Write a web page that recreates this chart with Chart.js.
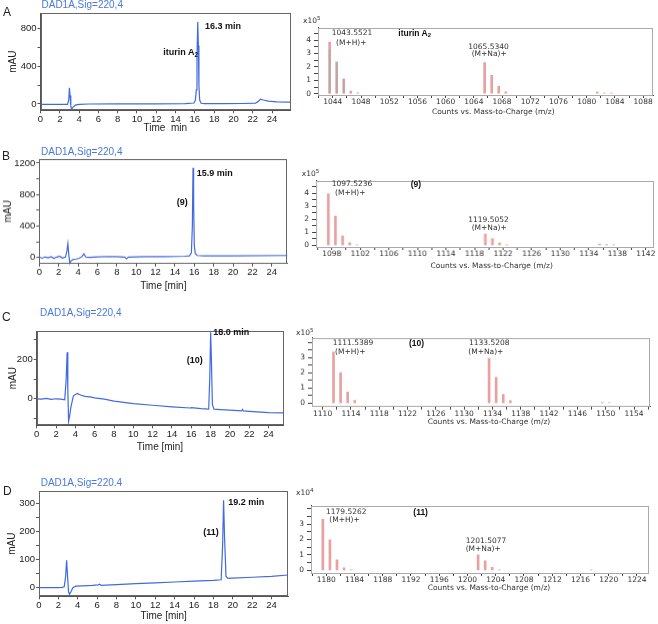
<!DOCTYPE html>
<html>
<head>
<meta charset="utf-8">
<script src="https://cdn.jsdelivr.net/npm/chart.js@4.4.1/dist/chart.umd.min.js"></script>
<style>
  body { margin: 0; width: 658px; height: 624px; position: relative; overflow: hidden; background: #fff;
         font-family: "Liberation Sans", Arial, sans-serif; }
  .c { position: absolute; }
  .t { position: absolute; white-space: nowrap; line-height: 1; z-index: 5; color: #222; }
  .pl { font-size: 12px; }
  .dad { font-size: 10px; color: #4a78e0; }
  .bl { font-size: 9px; font-weight: bold; color: #111; }
  .ms { font-family: "DejaVu Sans", Verdana, sans-serif; font-size: 7.5px; color: #333; }
  .msb { font-size: 8.5px; font-weight: bold; color: #111; }
  .sb { font-size: 70%; position: relative; top: 0.3em; }
  .sp { font-size: 75%; position: relative; top: -0.55em; }
</style>
</head>
<body>
<script>
// chromatograms (time in min, signal in mAU)
var timeA = [0, 1, 2, 2.8, 2.92, 3.0, 3.06, 3.14, 3.22, 3.35, 3.6, 4, 5, 8, 12, 15, 15.9, 16.05, 16.15, 16.22, 16.3, 16.36, 16.42, 16.5, 16.65, 17, 19, 21, 22.3, 22.6, 22.8, 23.1, 23.6, 24.5, 25.9];
var sigA  = [-4, -5, -4, -5, 40, 172, 90, -20, -58, -35, -12, -4, 0, 1, 2, 3, 10, 40, 150, 500, 870, 620, 200, 40, 8, 3, 3, 5, 10, 30, 50, 42, 30, 22, 20];

var timeB = [0, 0.3, 0.6, 0.9, 1.2, 1.5, 1.8, 2.1, 2.4, 2.7, 2.85, 2.95, 3.05, 3.15, 3.3, 3.5, 3.8, 4.1, 4.4, 4.6, 4.8, 5.2, 6, 7, 8, 8.8, 9.0, 9.2, 10, 11, 12, 13, 14, 15, 15.5, 15.7, 15.8, 15.87, 15.93, 16.0, 16.1, 16.3, 17, 20, 25.6];
var sigB  = [5, -10, 8, -5, 10, -12, 5, 15, -8, 5, 80, 175, 30, -73, -40, -25, -20, -10, 10, 45, 5, 0, 8, 12, 10, 5, -15, 5, 8, 10, 12, 10, 12, 15, 20, 60, 400, 1140, 700, 150, 50, 25, 20, 20, 25];

var timeC = [0, 0.5, 1, 1.5, 2, 2.5, 2.9, 3.05, 3.15, 3.22, 3.3, 3.4, 3.55, 3.8, 4.2, 4.6, 5, 5.5, 6, 7, 8, 10, 12, 14, 15.9, 16.0, 17, 17.8, 17.92, 18.0, 18.08, 18.18, 18.35, 19, 20, 21.2, 21.3, 21.4, 22, 24, 25.5];
var sigC  = [0, -2, 2, -3, 0, -2, -5, 100, 237, 50, -115, -90, -40, 15, 27, 18, 12, 10, 5, -2, -12, -25, -33, -41, -47, -45, -50, -53, 120, 338, 200, -30, -53, -55, -58, -62, -54, -62, -64, -70, -72];

var timeD = [0, 1, 2, 2.4, 2.6, 2.75, 2.85, 2.95, 3.05, 3.15, 3.3, 3.5, 3.8, 4.5, 5.5, 6.1, 6.25, 6.4, 8, 10, 12, 14, 16, 18, 18.8, 18.95, 19.05, 19.15, 19.3, 19.5, 20, 22, 24, 25.7];
var sigD  = [0, 0, 0, 1, 3, 40, 98, 40, -15, -24, -15, 0, 5, 6, 8, 10, 12, 8, 11, 14, 17, 20, 23, 26, 28, 150, 312, 180, 40, 33, 34, 37, 40, 45];

// mass spectra (m/z, counts in x10^n)
var mzA  = [1043.55, 1044.55, 1045.55, 1046.55, 1047.55, 1065.53, 1066.53, 1067.53, 1068.53, 1081.5, 1082.5, 1083.5];
var intA = [3.86, 2.39, 1.09, 0.2, 0.07, 2.32, 1.37, 0.55, 0.14, 0.12, 0.06, 0.05];
var profA = [3.25, 2.25, 1.1];

var mzB  = [1097.52, 1098.52, 1099.52, 1100.52, 1101.52, 1119.51, 1120.51, 1121.51, 1122.51, 1135.5, 1136.5, 1137.5];
var intB = [3.95, 2.25, 0.73, 0.2, 0.05, 0.87, 0.52, 0.2, 0.05, 0.1, 0.07, 0.04];

var mzC  = [1111.54, 1112.54, 1113.54, 1114.54, 1133.52, 1134.52, 1135.52, 1136.52, 1149.5, 1150.5];
var intC = [3.36, 2.01, 0.74, 0.2, 2.94, 1.7, 0.59, 0.17, 0.06, 0.04];

var mzD  = [1179.53, 1180.53, 1181.53, 1182.53, 1183.53, 1201.51, 1202.51, 1203.51, 1204.51, 1217.5];
var intD = [3.31, 1.97, 0.68, 0.17, 0.04, 1.0, 0.62, 0.2, 0.04, 0.03];

// tick labels
var timeTicks = [0, 2, 4, 6, 8, 10, 12, 14, 16, 18, 20, 22, 24];
var mauTicksA = [0, 400, 800];
var mauTicksB = [0, 400, 800, 1200];
var mauTicksC = [0, 200];
var mauTicksD = [0, 100, 200, 300];
var mzTicksA = [1044, 1048, 1052, 1056, 1060, 1064, 1068, 1072, 1076, 1080, 1084, 1088];
var mzTicksB = [1098, 1102, 1106, 1110, 1114, 1118, 1122, 1126, 1130, 1134, 1138, 1142];
var mzTicksC = [1110, 1114, 1118, 1122, 1126, 1130, 1134, 1138, 1142, 1146, 1150, 1154];
var mzTicksD = [1180, 1184, 1188, 1192, 1196, 1200, 1204, 1208, 1212, 1216, 1220, 1224];
var countTicks4 = [0, 1, 2, 3, 4];
var countTicks3 = [0, 1, 2, 3];

Chart.defaults.font.family = '"Liberation Sans", Arial, sans-serif';
Chart.defaults.color = '#222';

var frame = {
  id: 'frame',
  afterDraw: function (chart, args, opts) {
    var a = chart.chartArea, ctx = chart.ctx;
    ctx.save();
    ctx.strokeStyle = opts.color;
    ctx.lineWidth = 1;
    ctx.strokeRect(Math.round(a.left) + 0.5, Math.round(a.top) + 0.5,
      Math.round(a.right - a.left) - 1, Math.round(a.bottom - a.top) - 1);
    ctx.restore();
  }
};

function pairs(xs, ys) {
  return xs.map(function (x, i) { return { x: x, y: ys[i] }; });
}

function place(left, top, w, h) {
  var d = document.createElement('div');
  d.className = 'c';
  d.style.left = left + 'px'; d.style.top = top + 'px';
  d.style.width = w + 'px'; d.style.height = h + 'px';
  var cv = document.createElement('canvas');
  d.appendChild(cv);
  document.body.appendChild(d);
  return cv;
}

function labelIf(list) {
  return function (v) {
    for (var i = 0; i < list.length; i++) {
      if (Math.abs(list[i] - v) < 1e-6) return String(list[i]);
    }
    return '';
  };
}

// tick marks every `step`, on multiples of step
function everyStep(step) {
  return function (s) {
    var t = [];
    for (var k = Math.ceil(s.min / step - 1e-9); k * step <= s.max + 1e-9; k++) {
      t.push({ value: Math.round(k * step * 1000) / 1000 });
    }
    s.ticks = t;
  };
}

// box: plot-area edges in page pixels, titleY: centre of x title
function chrom(box, t, v, yr, xMax, minor, yTicks, xTitle) {
  var padT = 8, padR = 6, padL = box.l, padB = box.titleY - box.b + 6;
  var cv = place(0, box.t - padT, box.r + padR, box.b - box.t + padT + padB);
  new Chart(cv, {
    type: 'scatter',
    data: { datasets: [{
      data: pairs(t, v), showLine: true, borderColor: '#4169e1', borderWidth: 1.2,
      pointRadius: 0, tension: 0, clip: false
    }] },
    plugins: [frame],
    options: {
      responsive: true, maintainAspectRatio: false, animation: false, events: [],
      layout: { padding: { left: 0, top: padT, right: padR, bottom: 0 } },
      plugins: { legend: { display: false }, tooltip: { enabled: false }, frame: { color: '#666' } },
      scales: {
        x: {
          type: 'linear', min: 0, max: xMax,
          afterFit: function (s) { s.height = padB; },
          afterBuildTicks: everyStep(2),
          ticks: { autoSkip: false, maxRotation: 0, padding: 0,
                   font: { size: 9.5 }, color: '#222', callback: labelIf(timeTicks) },
          grid: { drawOnChartArea: false, tickLength: 3, color: '#555' },
          border: { color: '#555' },
          title: { display: true, text: xTitle, font: { size: 10 }, color: '#222', padding: 0 }
        },
        y: {
          min: yr[0], max: yr[1],
          afterFit: function (s) { s.width = padL; },
          afterBuildTicks: everyStep(minor),
          ticks: { autoSkip: false, padding: 1,
                   font: { size: 9.5 }, color: '#222', callback: labelIf(yTicks) },
          grid: { drawOnChartArea: false, tickLength: 3, color: '#555' },
          border: { color: '#555' },
          title: { display: true, text: 'mAU', font: { size: 10 }, color: '#222', padding: { top: box.yt, bottom: 0 } }
        }
      }
    }
  });
}

function spectrum(box, mz, ints, yr, xr, xTicks, yTicks, prof) {
  var padL = 24, padT = 4, padR = 10, padB = 14;
  var cv = place(box.l - padL, box.t - padT, box.r - box.l + padL + padR, box.b - box.t + padT + padB);
  var sets = [{
    data: pairs(mz, ints), backgroundColor: '#e8a0a0', barThickness: 2, grouped: false, order: 2
  }];
  if (prof) {
    sets.push({ data: pairs(mz.slice(0, prof.length), prof), backgroundColor: 'rgba(170,170,170,0.75)',
                barThickness: 1, grouped: false, order: 1 });
  }
  new Chart(cv, {
    type: 'bar',
    data: { datasets: sets },
    plugins: [frame],
    options: {
      responsive: true, maintainAspectRatio: false, animation: false, events: [],
      layout: { padding: { left: 0, top: padT, right: padR, bottom: 0 } },
      plugins: { legend: { display: false }, tooltip: { enabled: false }, frame: { color: '#aaa' } },
      scales: {
        x: {
          type: 'linear', min: xr[0], max: xr[1], offset: false,
          afterFit: function (s) { s.height = padB; },
          afterBuildTicks: everyStep(2),
          ticks: { autoSkip: false, maxRotation: 0, padding: 0,
                   font: { family: '"DejaVu Sans", Verdana, sans-serif', size: 7.5 }, color: '#333',
                   callback: labelIf(xTicks) },
          grid: { drawOnChartArea: false, offset: false, tickLength: 3, color: '#444' },
          border: { color: '#444' }
        },
        y: {
          min: yr[0], max: yr[1],
          afterFit: function (s) { s.width = padL; },
          afterBuildTicks: everyStep(0.5),
          ticks: { autoSkip: false, padding: 3,
                   font: { family: '"DejaVu Sans", Verdana, sans-serif', size: 7.5 }, color: '#333',
                   callback: labelIf(yTicks) },
          grid: { drawOnChartArea: false, tickLength: 4, color: '#444' },
          border: { color: '#444' }
        }
      }
    }
  });
}

chrom({ l: 40.5, t: 12.7, r: 290, b: 110, titleY: 128, yt: 7 }, timeA, sigA, [-67, 965], 25.86, 200, mauTicksA, 'Time  min');
chrom({ l: 39.3, t: 159.3, r: 287.3, b: 263, titleY: 286, yt: 2 }, timeB, sigB, [-77, 1251], 25.6, 200, mauTicksB, 'Time [min]');
chrom({ l: 36.7, t: 330.7, r: 283.3, b: 425, titleY: 446.7, yt: 7 }, timeC, sigC, [-135, 345], 25.52, 100, mauTicksC, 'Time [min]');
chrom({ l: 39, t: 490.7, r: 288.3, b: 596, titleY: 616, yt: 6 }, timeD, sigD, [-31, 345], 25.73, 50, mauTicksD, 'Time [min]');

spectrum({ l: 318, t: 24, r: 653, b: 95 }, mzA, intA, [-0.09, 4.94], [1041.9, 1089.4], mzTicksA, countTicks4, profA);
spectrum({ l: 316, t: 176.7, r: 652.7, b: 246.7 }, mzB, intB, [-0.12, 4.97], [1095.8, 1143.1], mzTicksB, countTicks4);
spectrum({ l: 311.7, t: 334.3, r: 650, b: 406 }, mzC, intC, [-0.21, 4.3], [1108.5, 1156.3], mzTicksC, countTicks3);
spectrum({ l: 310.7, t: 501.7, r: 648.3, b: 572.7 }, mzD, intD, [-0.17, 4.2], [1177.85, 1225.65], mzTicksD, countTicks3);

function txt(x, y, html, cls, center) {
  var d = document.createElement('div');
  d.className = 't ' + cls;
  d.innerHTML = html;
  d.style.left = x + 'px';
  d.style.top = y + 'px';
  d.style.transform = center ? 'translate(-50%,-50%)' : 'translateY(-50%)';
  document.body.appendChild(d);
}

var mzTitle = 'Counts vs. Mass-to-Charge (m/z)';

// panel A
txt(3, 12, 'A', 'pl');
txt(41.5, 5, 'DAD1A,Sig=220,4', 'dad');
txt(205, 25.7, '16.3 min', 'bl');
txt(163.3, 51.7, 'iturin A<span class="sb">2</span>', 'bl');
txt(303, 20.7, 'x10<span class="sp">5</span>', 'ms');
txt(331.7, 33.3, '1043.5521', 'ms');
txt(336, 42.7, '(M+H)+', 'ms');
txt(398.3, 32.7, 'iturin A<span class="sb">2</span>', 'msb');
txt(468.3, 46.7, '1065.5340', 'ms');
txt(471.7, 54, '(M+Na)+', 'ms');
txt(493.3, 111.7, mzTitle, 'ms', true);

// panel B
txt(2, 156, 'B', 'pl');
txt(41, 152, 'DAD1A,Sig=220,4', 'dad');
txt(196.7, 172.7, '15.9 min', 'bl');
txt(176.7, 201.7, '(9)', 'bl');
txt(301.7, 174, 'x10<span class="sp">5</span>', 'ms');
txt(331.7, 184.3, '1097.5236', 'ms');
txt(335, 192.7, '(M+H)+', 'ms');
txt(410.7, 184.3, '(9)', 'msb');
txt(468.3, 220, '1119.5052', 'ms');
txt(471.7, 228.3, '(M+Na)+', 'ms');
txt(491.7, 266, mzTitle, 'ms', true);

// panel C
txt(2, 316.7, 'C', 'pl');
txt(40, 313.3, 'DAD1A,Sig=220,4', 'dad');
txt(213.3, 331.7, '18.0 min', 'bl');
txt(186.7, 360, '(10)', 'bl');
txt(296, 333.3, 'x10<span class="sp">5</span>', 'ms');
txt(332.7, 343.3, '1111.5389', 'ms');
txt(335, 351.7, '(M+H)+', 'ms');
txt(409, 343.3, '(10)', 'msb');
txt(469, 343.3, '1133.5208', 'ms');
txt(468.3, 351.7, '(M+Na)+', 'ms');
txt(489, 422.3, mzTitle, 'ms', true);

// panel D
txt(3, 490.7, 'D', 'pl');
txt(40.7, 482.7, 'DAD1A,Sig=220.4', 'dad');
txt(228.3, 502.3, '19.2 min', 'bl');
txt(203.3, 532.3, '(11)', 'bl');
txt(296, 493.3, 'x10<span class="sp">4</span>', 'ms');
txt(326, 512.3, '1179.5262', 'ms');
txt(329.3, 520, '(M+H)+', 'ms');
txt(413.3, 512.3, '(11)', 'msb');
txt(465.7, 541, '1201.5077', 'ms');
txt(465.7, 549.3, '(M+Na)+', 'ms');
txt(489, 588.3, mzTitle, 'ms', true);
</script>
</body>
</html>
